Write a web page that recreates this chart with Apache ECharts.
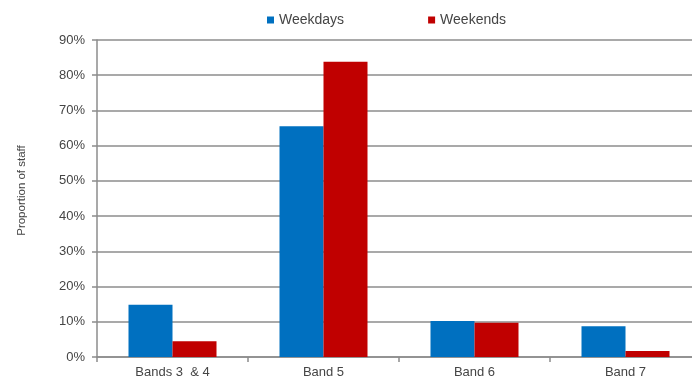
<!DOCTYPE html>
<html>
<head>
<meta charset="utf-8">
<script src="https://cdn.jsdelivr.net/npm/echarts@6/dist/echarts.min.js"></script>
<style>
  html, body { margin: 0; padding: 0; background: #fff; overflow: hidden; }
  #chart { width: 701px; height: 383px; }
</style>
</head>
<body>
<div id="chart"></div>
<script>
// Staff proportions by band
const categories = ['Bands 3  & 4', 'Band 5', 'Band 6', 'Band 7'];
const weekdays = [14.8, 65.5, 10.2, 8.7];
const weekends = [4.5, 83.8, 9.7, 1.7];
const yTicks = { min: 0, max: 90, interval: 10 };

const textColor = '#454545';
const gridColor = '#8c8c8c';

const chart = echarts.init(document.getElementById('chart'), null, { renderer: 'canvas' });
chart.setOption({
  backgroundColor: '#ffffff',
  animation: false,
  textStyle: { fontFamily: 'Liberation Sans, Arial, sans-serif' },
  legend: {
    left: 267,
    top: 13,
    padding: 0,
    itemWidth: 7,
    itemHeight: 7,
    itemGap: 84,
    icon: 'rect',
    textStyle: { fontSize: 14, color: textColor },
    data: ['Weekdays', 'Weekends']
  },
  grid: { left: 97, top: 40, right: 0, bottom: 26, containLabel: false },
  xAxis: {
    type: 'category',
    data: categories,
    axisLine: { lineStyle: { color: gridColor, width: 1.5 } },
    axisTick: { show: true, length: 5, lineStyle: { color: gridColor, width: 1.5 } },
    axisLabel: { fontSize: 13, color: textColor, margin: 9 }
  },
  yAxis: {
    type: 'value',
    min: yTicks.min,
    max: yTicks.max,
    interval: yTicks.interval,
    name: 'Proportion of staff',
    nameLocation: 'middle',
    nameGap: 69,
    nameTextStyle: { fontSize: 11.5, color: textColor, padding: [0, 0, 0, 16] },
    axisLine: { show: true, lineStyle: { color: gridColor, width: 1.5 } },
    axisTick: { show: true, length: 5, lineStyle: { color: gridColor, width: 1.5 } },
    axisLabel: { fontSize: 13, color: textColor, margin: 12, formatter: '{value}%' },
    splitLine: { show: true, lineStyle: { color: gridColor, width: 1.5 } }
  },
  series: [
    {
      name: 'Weekdays',
      type: 'bar',
      data: weekdays,
      barWidth: 44,
      barGap: '0%',
      itemStyle: { color: '#0070C0' }
    },
    {
      name: 'Weekends',
      type: 'bar',
      data: weekends,
      barWidth: 44,
      barGap: '0%',
      itemStyle: { color: '#C00000' }
    }
  ]
});
</script>
</body>
</html>
